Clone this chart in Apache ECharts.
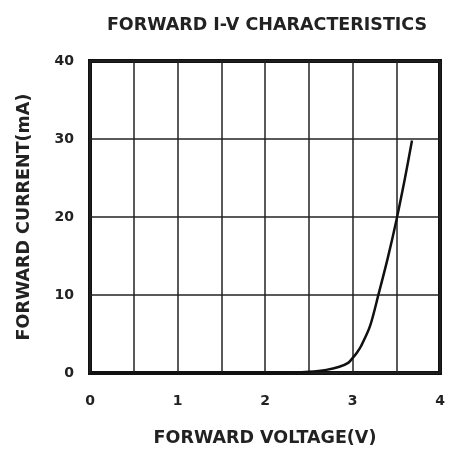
<!DOCTYPE html>
<html>
<head>
<meta charset="utf-8">
<script src="https://cdn.jsdelivr.net/npm/echarts@6/dist/echarts.min.js"></script>
<style>
html,body{margin:0;padding:0;background:#fff;}
#main{width:451px;height:452px;}
</style>
</head>
<body>
<div id="main"></div>
<script>
var voltage = [0, 2.0, 2.3, 2.5, 2.7, 2.85, 2.95, 3.0, 3.05, 3.1, 3.2, 3.3, 3.4, 3.5, 3.6, 3.68];
var current = [0, 0, 0.05, 0.15, 0.4, 0.8, 1.3, 1.9, 2.6, 3.5, 6.0, 10.2, 14.6, 19.5, 25.0, 29.8];
var xTicks = [0, 1, 2, 3, 4];
var yTicks = [0, 10, 20, 30, 40];
var titleText = 'FORWARD I-V CHARACTERISTICS';
var xName = 'FORWARD VOLTAGE(V)';
var yName = 'FORWARD CURRENT(mA)';

var pts = voltage.map(function(v, i){ return [v, current[i]]; });
var font = '"DejaVu Sans", Arial, sans-serif';
var chart = echarts.init(document.getElementById('main'));
chart.setOption({
  animation: false,
  backgroundColor: '#fff',
  title: {
    text: titleText, left: 262, top: 11, textAlign: 'center',
    textStyle: {fontFamily: font, fontWeight: 'bold', fontSize: 17.5, color: '#222'}
  },
  grid: {left: 90, top: 61, right: 11, bottom: 77, show: true, borderColor: '#111', borderWidth: 4, backgroundColor: 'transparent'},
  xAxis: {
    type: 'value', min: 0, max: 4, interval: 0.5,
    name: xName, nameLocation: 'middle', nameGap: 56,
    nameTextStyle: {fontFamily: font, fontWeight: 'bold', fontSize: 17.5, color: '#222'},
    axisLine: {show: false}, axisTick: {show: false},
    axisLabel: {
      margin: 21, fontFamily: font, fontWeight: 'bold', fontSize: 14, color: '#222',
      formatter: function(v){ return xTicks.indexOf(v) >= 0 ? String(v) : ''; }
    },
    splitLine: {show: true, lineStyle: {color: '#222', width: 1.5}}
  },
  yAxis: {
    type: 'value', min: 0, max: 40, interval: 10,
    name: yName, nameLocation: 'middle', nameGap: 57, nameRotate: 90,
    nameTextStyle: {fontFamily: font, fontWeight: 'bold', fontSize: 17.5, color: '#222'},
    axisLine: {show: false}, axisTick: {show: false},
    axisLabel: {
      margin: 16, fontFamily: font, fontWeight: 'bold', fontSize: 14, color: '#222',
      formatter: function(v){ return yTicks.indexOf(v) >= 0 ? String(v) : ''; }
    },
    splitLine: {show: true, lineStyle: {color: '#222', width: 1.5}}
  },
  series: [{
    type: 'line', data: pts, smooth: 0.3, symbol: 'none',
    lineStyle: {color: '#111', width: 2.5}
  }]
});
</script>
</body>
</html>
